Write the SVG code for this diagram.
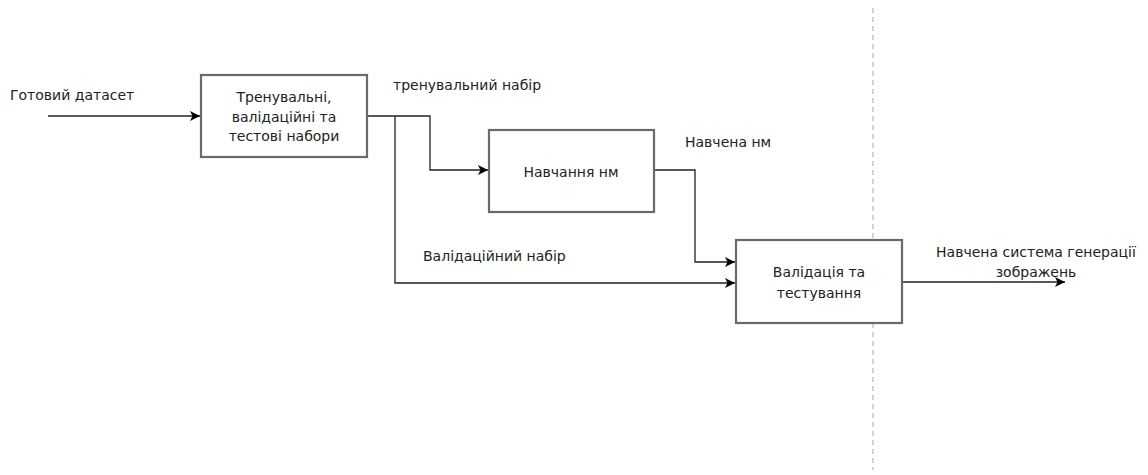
<svg xmlns="http://www.w3.org/2000/svg" width="1148" height="475" viewBox="0 0 1148 475">
<defs>
<marker id="arr" viewBox="0 0 10 10" refX="10" refY="5" markerWidth="10" markerHeight="10" markerUnits="userSpaceOnUse" orient="auto">
<path d="M0,0 L10,5 L0,10 L2.5,5 Z" fill="#000"/>
</marker>
<style>
.box{fill:#fff;stroke:#6a6a6a;stroke-width:2.2}
.t{font-family:"DejaVu Sans",sans-serif;font-size:14px;fill:#222}
.c{text-anchor:middle}
.edge{fill:none;stroke:#222;stroke-width:1.3;marker-end:url(#arr)}
</style>
</defs>
<rect width="1148" height="475" fill="#fff"/>
<line x1="873" y1="8" x2="873" y2="470" stroke="#bbb" stroke-width="1.3" stroke-dasharray="5,4"/>
<g id="connectors">
<path class="edge" d="M48,116 H200"/>
<path class="edge" d="M367,116 H430 V170 H488"/>
<path class="edge" d="M395,116 V283 H735"/>
<path class="edge" d="M654,170 H695 V262 H735"/>
<path class="edge" d="M902,282 H1065"/>
</g>
<g id="n1"><rect class="box" x="201" y="75" width="166" height="82"/>
<text class="t c" x="284" y="102">Тренувальні,</text>
<text class="t c" x="284" y="122">валідаційні та</text>
<text class="t c" x="284" y="141">тестові набори</text></g>
<g id="n2"><rect class="box" x="489" y="130" width="165" height="82"/>
<text class="t c" x="571" y="177">Навчання нм</text></g>
<g id="n3"><rect class="box" x="736" y="240" width="166" height="83"/>
<text class="t c" x="819" y="277">Валідація та</text>
<text class="t c" x="819" y="298">тестування</text></g>
<g id="labels">
<text class="t" x="10" y="100">Готовий датасет</text>
<text class="t" x="393" y="90">тренувальний набір</text>
<text class="t" x="685" y="147">Навчена нм</text>
<text class="t" x="423" y="261">Валідаційний набір</text>
<text class="t c" x="1036" y="257">Навчена система генерації</text>
<text class="t c" x="1036" y="277">зображень</text>
</g>
</svg>
